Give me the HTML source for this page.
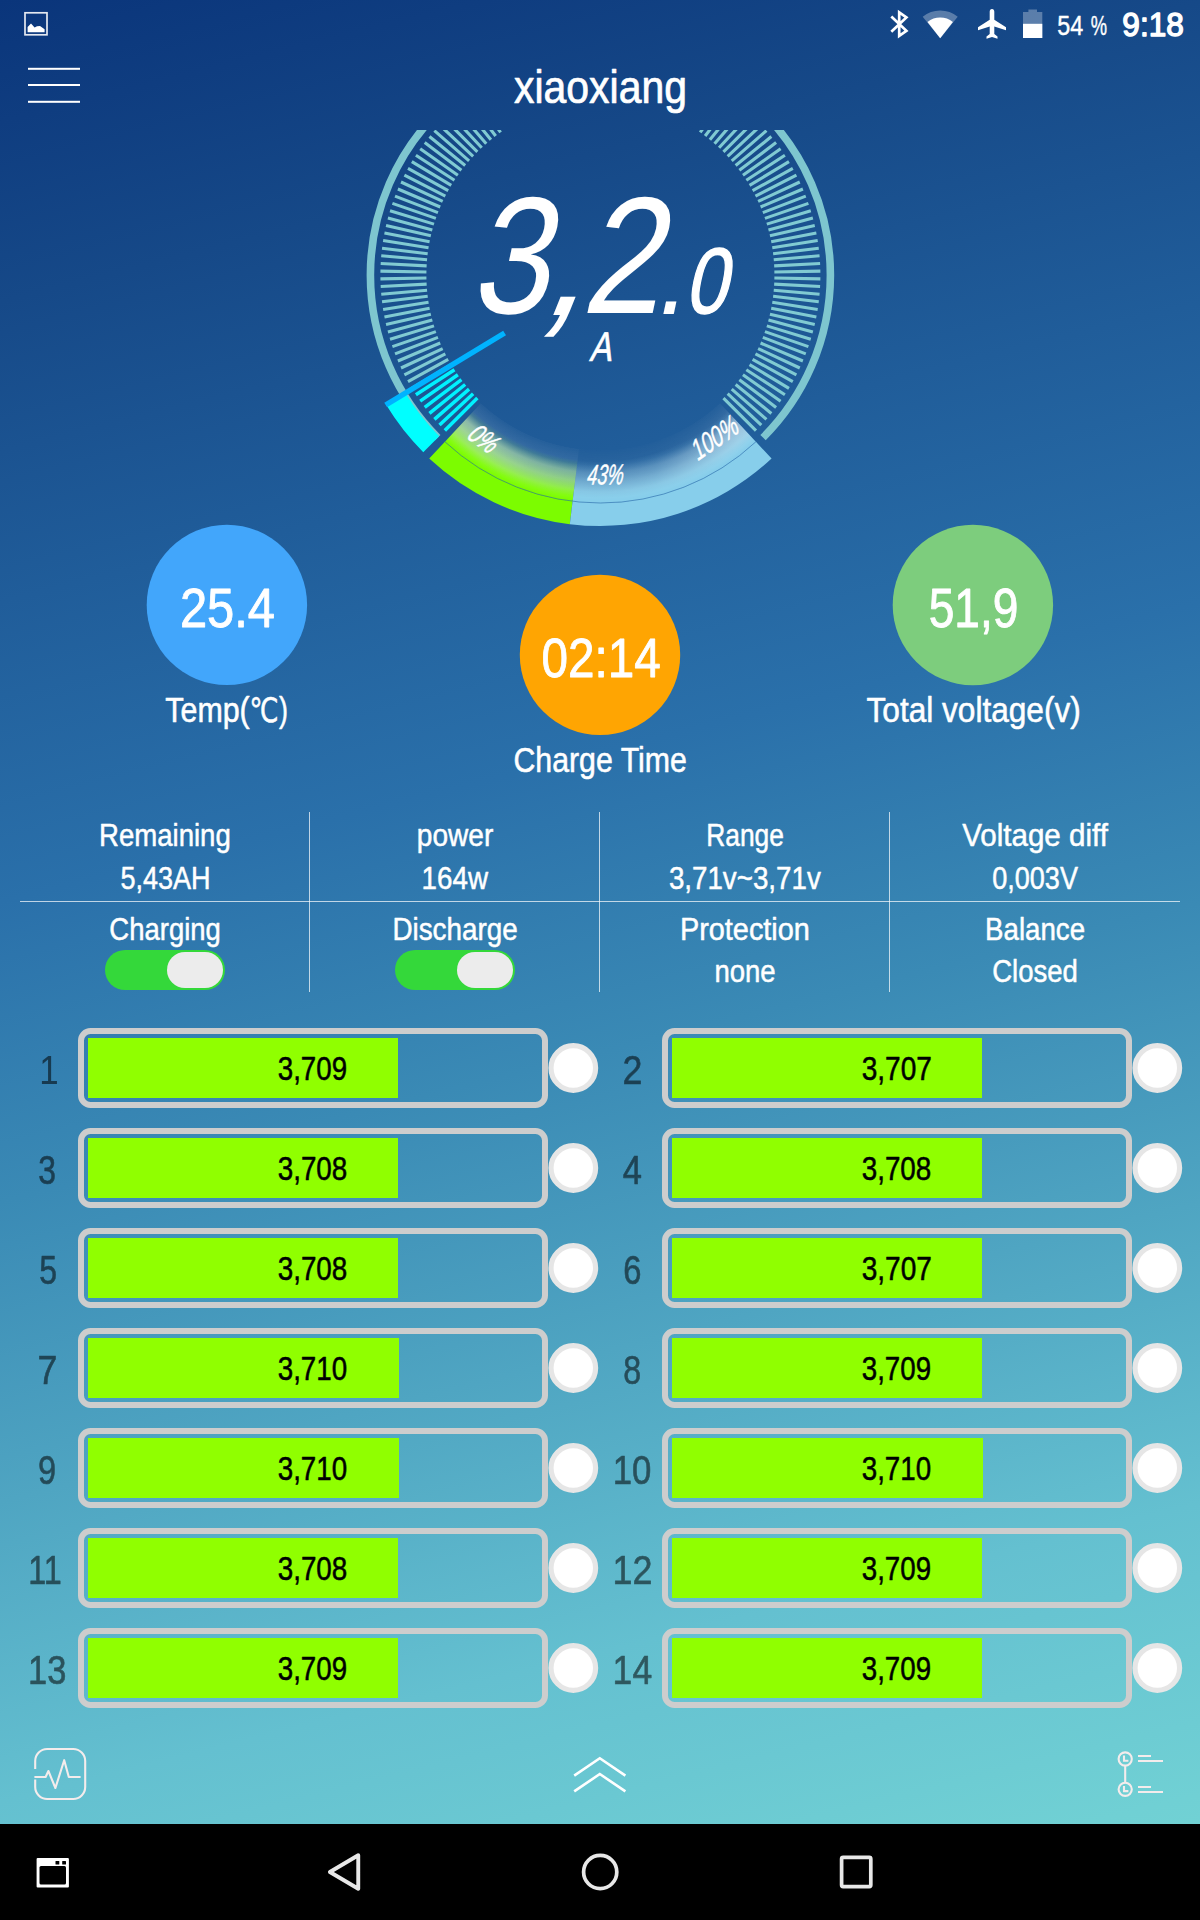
<!DOCTYPE html>
<html lang="en">
<head>
<meta charset="utf-8">
<title>xiaoxiang</title>
<style>
html,body{margin:0;padding:0;background:#000;}
body{width:1200px;height:1920px;overflow:hidden;position:relative;font-family:"Liberation Sans",sans-serif;}
.screen{position:absolute;left:0;top:0;width:1200px;height:1824px;overflow:hidden;
  background:linear-gradient(166deg,#0a357b 0%,#0f3d80 5.74%,#164988 14.22%,#205d9a 28.36%,#2a70aa 42.49%,#3a8ab5 56.61%,#4fa5c2 70.74%,#64c0d0 84.87%,#70d0d4 98.63%,#71d1d4 100%);}
.ui{position:absolute;left:0;top:0;display:block;}
.navbar{position:absolute;left:0;top:1824px;width:1200px;height:96px;background:#000;}
.navbar svg{display:block;}
text{white-space:pre;}
</style>
</head>
<body>
<div class="screen">
<svg class="ui" width="1200" height="1824" viewBox="0 0 1200 1824" font-family="&quot;Liberation Sans&quot;, sans-serif">
<defs>
<clipPath id="gclip"><rect x="300" y="130" width="600" height="420"/></clipPath>
<radialGradient id="gg" gradientUnits="userSpaceOnUse" cx="600.4" cy="275.0" r="228">
<stop offset="0.816" stop-color="#7cfc00" stop-opacity="0"/>
<stop offset="0.855" stop-color="#7cfc00" stop-opacity="0.20"/>
<stop offset="0.890" stop-color="#7cfc00" stop-opacity="0.42"/>
<stop offset="0.921" stop-color="#7cfc00" stop-opacity="0.66"/>
<stop offset="0.952" stop-color="#7cfc00" stop-opacity="0.90"/>
<stop offset="0.978" stop-color="#7cfc00" stop-opacity="1"/>
</radialGradient>
<radialGradient id="gb" gradientUnits="userSpaceOnUse" cx="600.4" cy="275.0" r="228">
<stop offset="0.816" stop-color="#87ceeb" stop-opacity="0"/>
<stop offset="0.855" stop-color="#87ceeb" stop-opacity="0.20"/>
<stop offset="0.890" stop-color="#87ceeb" stop-opacity="0.42"/>
<stop offset="0.921" stop-color="#87ceeb" stop-opacity="0.66"/>
<stop offset="0.952" stop-color="#87ceeb" stop-opacity="0.90"/>
<stop offset="0.978" stop-color="#87ceeb" stop-opacity="1"/>
</radialGradient>
<radialGradient id="gw" gradientUnits="userSpaceOnUse" cx="600.4" cy="275.0" r="228">
<stop offset="0.767" stop-color="#fff" stop-opacity="0"/>
<stop offset="0.770" stop-color="#fff" stop-opacity="0.035"/>
<stop offset="0.833" stop-color="#fff" stop-opacity="0.13"/>
<stop offset="0.868" stop-color="#fff" stop-opacity="0.42"/>
<stop offset="0.908" stop-color="#fff" stop-opacity="0.44"/>
<stop offset="0.947" stop-color="#fff" stop-opacity="0.30"/>
<stop offset="0.978" stop-color="#fff" stop-opacity="0.08"/>
<stop offset="0.996" stop-color="#fff" stop-opacity="0"/>
</radialGradient>
<linearGradient id="gm" gradientUnits="userSpaceOnUse" x1="440" y1="0" x2="580" y2="0">
<stop offset="0" stop-color="#fff"/>
<stop offset="0.30" stop-color="#fff"/>
<stop offset="0.65" stop-color="#d8d8d8"/>
<stop offset="1" stop-color="#c4c4c4"/>
</linearGradient>
<linearGradient id="gm2" gradientUnits="userSpaceOnUse" x1="570" y1="0" x2="760" y2="0">
<stop offset="0" stop-color="#4a4a4a"/>
<stop offset="0.45" stop-color="#5a5a5a"/>
<stop offset="0.70" stop-color="#9a9a9a"/>
<stop offset="0.88" stop-color="#f0f0f0"/>
<stop offset="1" stop-color="#fff"/>
</linearGradient>
<mask id="gmask" maskUnits="userSpaceOnUse" x="300" y="300" width="600" height="300"><rect x="300" y="300" width="600" height="300" fill="url(#gm)"/></mask>
<mask id="gmask2" maskUnits="userSpaceOnUse" x="300" y="300" width="600" height="300"><rect x="300" y="300" width="600" height="300" fill="url(#gm2)"/></mask>
</defs>
<g id="statusbar">
<rect x="25" y="12.8" width="22" height="22" fill="none" stroke="#e4e8f0" stroke-width="1.7"/>
<path d="M27.6 32.2 V27 L31 23.4 L34.6 27.4 L37 26.3 L40 26 L44.6 29.2 V32.2 Z" fill="#fff"/>
<path d="M891.3 16.5 L906.4 30.8 L899.2 35.8 V12.4 L906.4 17.4 L891.3 31.7" fill="none" stroke="#fff" stroke-width="2.7" stroke-linejoin="miter"/>
<path d="M922.7 16.7 A28.1 28.1 0 0 1 957.7 16.7 L940.2 38.2 Z" fill="#fff" fill-opacity="0.3"/>
<path d="M927.5 22 A20.6 20.6 0 0 1 952.9 22 L940.2 38.2 Z" fill="#fff"/>
<path d="M992 9 c1.5 0 2.3 1.3 2.3 2.8 v8 l11.7 7.4 v3 l-11.7 -3.7 v7.6 l3.2 2.3 v2.3 l-5.5 -1.6 l-5.5 1.6 v-2.3 l3.2 -2.3 v-7.6 l-11.7 3.7 v-3 l11.7 -7.4 v-8 c0 -1.5 0.8 -2.8 2.3 -2.8 z" fill="#fff"/>
<path d="M1028.4 9.4 h8.6 v2.5 h5.3 v26.1 h-19.3 v-26.1 h5.4 z" fill="#fff" fill-opacity="0.3"/>
<rect x="1023" y="23.8" width="19.3" height="14.2" fill="#fff"/>
<text transform="translate(1057.25 34.90) scale(0.8645 1.0300)" font-size="27.00" stroke="#fff" stroke-width="0.43" stroke-linejoin="round" fill="#fff">54</text>
<text transform="translate(1090.84 34.90) scale(0.6790 1.0300)" font-size="27.00" stroke="#fff" stroke-width="0.43" stroke-linejoin="round" fill="#fff">%</text>
<text transform="translate(1122.37 36.00) scale(0.9928 1.0300)" font-size="31.80" stroke="#fff" stroke-width="1.34" stroke-linejoin="round" fill="#fff">9:18</text>
</g>
<g id="header">
<rect x="28" y="67.8" width="52" height="2" fill="#fff"/>
<rect x="28" y="84.0" width="52" height="2" fill="#fff"/>
<rect x="28" y="100.8" width="52" height="2" fill="#fff"/>
<text transform="translate(514.00 102.50) scale(0.8822 1.0000)" font-size="46.40" stroke="#fff" stroke-width="0.74" stroke-linejoin="round" fill="#fff">xiaoxiang</text>
</g>
<g id="gauge" clip-path="url(#gclip)">
<path d="M437.77 437.63 A230 230 0 1 1 763.03 437.63" fill="none" stroke="#7ec6cf" stroke-width="7.6"/>
<path d="M451.25 364.62 L411.82 388.31 M448.22 359.36 L407.98 381.66 M445.36 353.99 L404.38 374.88 M442.70 348.54 L401.01 367.98 M440.23 342.99 L397.89 360.96 M437.96 337.36 L395.01 353.84 M435.88 331.65 L392.39 346.62 M434.00 325.87 L390.01 339.32 M432.33 320.03 L387.90 331.94 M430.86 314.14 L386.04 324.49 M429.60 308.20 L384.44 316.98 M428.54 302.22 L383.11 309.42 M427.70 296.21 L382.04 301.81 M427.06 290.17 L381.24 294.17 M426.64 284.11 L380.70 286.51 M426.43 278.04 L380.43 278.84 M426.43 271.96 L380.43 271.16 M426.64 265.89 L380.70 263.49 M427.06 259.83 L381.24 255.83 M427.70 253.79 L382.04 248.19 M428.54 247.78 L383.11 240.58 M429.60 241.80 L384.44 233.02 M430.86 235.86 L386.04 225.51 M432.33 229.97 L387.90 218.06 M434.00 224.13 L390.01 210.68 M435.88 218.35 L392.39 203.38 M437.96 212.64 L395.01 196.16 M440.23 207.01 L397.89 189.04 M442.70 201.46 L401.01 182.02 M445.36 196.01 L404.38 175.12 M448.22 190.64 L407.98 168.34 M451.25 185.38 L411.82 161.69 M454.47 180.23 L415.89 155.18 M457.87 175.20 L420.19 148.81 M461.44 170.28 L424.70 142.60 M465.18 165.50 L429.43 136.55 M469.08 160.85 L434.36 130.67 M473.14 156.33 L439.50 124.96 M477.36 151.96 L444.84 119.44 M481.73 147.74 L450.36 114.10 M486.25 143.68 L456.07 108.96 M490.90 139.78 L461.95 104.03 M495.68 136.04 L468.00 99.30 M500.60 132.47 L474.21 94.79 M505.63 129.07 L480.58 90.49 M510.78 125.85 L487.09 86.42 M516.04 122.82 L493.74 82.58 M521.41 119.96 L500.52 78.98 M526.86 117.30 L507.42 75.61 M532.41 114.83 L514.44 72.49 M538.04 112.56 L521.56 69.61 M543.75 110.48 L528.78 66.99 M549.53 108.60 L536.08 64.61 M555.37 106.93 L543.46 62.50 M561.26 105.46 L550.91 60.64 M567.20 104.20 L558.42 59.04 M573.18 103.14 L565.98 57.71 M579.19 102.30 L573.59 56.64 M585.23 101.66 L581.23 55.84 M591.29 101.24 L588.89 55.30 M597.36 101.03 L596.56 55.03 M603.44 101.03 L604.24 55.03 M609.51 101.24 L611.91 55.30 M615.57 101.66 L619.57 55.84 M621.61 102.30 L627.21 56.64 M627.62 103.14 L634.82 57.71 M633.60 104.20 L642.38 59.04 M639.54 105.46 L649.89 60.64 M645.43 106.93 L657.34 62.50 M651.27 108.60 L664.72 64.61 M657.05 110.48 L672.02 66.99 M662.76 112.56 L679.24 69.61 M668.39 114.83 L686.36 72.49 M673.94 117.30 L693.38 75.61 M679.39 119.96 L700.28 78.98 M684.76 122.82 L707.06 82.58 M690.02 125.85 L713.71 86.42 M695.17 129.07 L720.22 90.49 M700.20 132.47 L726.59 94.79 M705.12 136.04 L732.80 99.30 M709.90 139.78 L738.85 104.03 M714.55 143.68 L744.73 108.96 M719.07 147.74 L750.44 114.10 M723.44 151.96 L755.96 119.44 M727.66 156.33 L761.30 124.96 M731.72 160.85 L766.44 130.67 M735.62 165.50 L771.37 136.55 M739.36 170.28 L776.10 142.60 M742.93 175.20 L780.61 148.81 M746.33 180.23 L784.91 155.18 M749.55 185.38 L788.98 161.69 M752.58 190.64 L792.82 168.34 M755.44 196.01 L796.42 175.12 M758.10 201.46 L799.79 182.02 M760.57 207.01 L802.91 189.04 M762.84 212.64 L805.79 196.16 M764.92 218.35 L808.41 203.38 M766.80 224.13 L810.79 210.68 M768.47 229.97 L812.90 218.06 M769.94 235.86 L814.76 225.51 M771.20 241.80 L816.36 233.02 M772.26 247.78 L817.69 240.58 M773.10 253.79 L818.76 248.19 M773.74 259.83 L819.56 255.83 M774.16 265.89 L820.10 263.49 M774.37 271.96 L820.37 271.16 M774.37 278.04 L820.37 278.84 M774.16 284.11 L820.10 286.51 M773.74 290.17 L819.56 294.17 M773.10 296.21 L818.76 301.81 M772.26 302.22 L817.69 309.42 M771.20 308.20 L816.36 316.98 M769.94 314.14 L814.76 324.49 M768.47 320.03 L812.90 331.94 M766.80 325.87 L810.79 339.32 M764.92 331.65 L808.41 346.62 M762.84 337.36 L805.79 353.84 M760.57 342.99 L802.91 360.96 M758.10 348.54 L799.79 367.98 M755.44 353.99 L796.42 374.88 M752.58 359.36 L792.82 381.66 M749.55 364.62 L788.98 388.31 M746.33 369.77 L784.91 394.82 M742.93 374.80 L780.61 401.19 M739.36 379.72 L776.10 407.40 M735.62 384.50 L771.37 413.45 M731.72 389.15 L766.44 419.33 M727.66 393.67 L761.30 425.04 M723.44 398.04 L755.96 430.56" stroke="#80cad2" stroke-width="3.1" fill="none"/>
<path d="M477.36 398.04 L444.84 430.56 M473.14 393.67 L439.50 425.04 M469.08 389.15 L434.36 419.33 M465.18 384.50 L429.43 413.45 M461.44 379.72 L424.70 407.40 M457.87 374.80 L420.19 401.19 M454.47 369.77 L415.89 394.82" stroke="#00f2ff" stroke-width="3.5" fill="none"/>
<path d="M386.13 404.77 A250.50 250.50 0 0 0 423.27 452.13 L439.18 436.22 A228.00 228.00 0 0 1 405.38 393.11 Z" fill="#00ffff"/>
<path d="M429.22 458.57 A251.00 251.00 0 0 0 569.81 524.13 L572.61 501.30 A228.00 228.00 0 0 1 444.90 441.75 Z" fill="#7cfc00"/>
<path d="M569.81 524.13 A251.00 251.00 0 0 0 771.58 458.57 L755.90 441.75 A228.00 228.00 0 0 1 572.61 501.30 Z" fill="#87ceeb"/>
<path d="M444.50 442.19 A228.60 228.60 0 0 0 572.54 501.90 L579.07 448.70 A175.00 175.00 0 0 1 481.05 402.99 Z" fill="url(#gg)"/>
<path d="M572.54 501.90 A228.60 228.60 0 0 0 756.30 442.19 L719.75 402.99 A175.00 175.00 0 0 1 579.07 448.70 Z" fill="url(#gb)"/>
<path d="M444.50 442.19 A228.60 228.60 0 0 0 572.54 501.90 L579.07 448.70 A175.00 175.00 0 0 1 481.05 402.99 Z" fill="url(#gw)" mask="url(#gmask)"/>
<path d="M572.54 501.90 A228.60 228.60 0 0 0 756.30 442.19 L719.75 402.99 A175.00 175.00 0 0 1 579.07 448.70 Z" fill="url(#gw)" mask="url(#gmask2)"/>
<path d="M444.90 441.75 A228 228 0 0 0 755.90 441.75" fill="none" stroke="#2566a6" stroke-width="0.75" stroke-opacity="0.8"/>
<path d="M504.60 333.02 L385.70 405.02" stroke="#00b3ff" stroke-width="5.5" fill="none"/>
<text transform="translate(477.56 445.94) rotate(35.70) skewX(-8.0) scale(0.709 1)" font-size="28.5" font-style="italic" text-anchor="middle" fill="#fff" stroke="#fff" stroke-width="0.45">0%</text>
<text transform="translate(604.79 484.45) rotate(-1.20) skewX(-8.0) scale(0.638 1)" font-size="28.5" font-style="italic" text-anchor="middle" fill="#fff" stroke="#fff" stroke-width="0.45">43%</text>
<text transform="translate(719.39 446.21) rotate(-34.80) skewX(-8.0) scale(0.712 1)" font-size="28.5" font-style="italic" text-anchor="middle" fill="#fff" stroke="#fff" stroke-width="0.45">100%</text>
<text transform="translate(469.27 313.10) skewX(-12.00) scale(0.8489 1.0000)" font-size="166.50" fill="#fff">3</text>
<text transform="translate(538.82 314.60) skewX(-22.00) scale(0.9550 1.0400)" font-size="164.00" fill="#fff">,</text>
<text transform="translate(580.26 313.10) skewX(-12.00) scale(0.8592 1.0000)" font-size="166.50" fill="#fff">2</text>
<text transform="translate(653.57 314.20) skewX(-12.00) scale(0.9357 1.0000)" font-size="116.00" fill="#fff">.</text>
<text transform="translate(684.13 312.60) skewX(-12.00) scale(0.8095 1.0000)" font-size="93.20" stroke="#fff" stroke-width="1.49" stroke-linejoin="round" fill="#fff">0</text>
<text transform="translate(588.93 361.10) skewX(-12.00) scale(0.8020 1.0000)" font-size="41.40" stroke="#fff" stroke-width="0.66" stroke-linejoin="round" fill="#fff">A</text>
</g>
<g id="stats">
<circle cx="226.9" cy="604.9" r="80.2" fill="#42a6fb"/>
<circle cx="600" cy="654.9" r="80.2" fill="#ffa502"/>
<circle cx="972.9" cy="605" r="80.2" fill="#7dcd7d"/>
<text transform="translate(179.93 627.20) scale(0.8966 1.0300)" font-size="54.50" stroke="#fff" stroke-width="0.87" stroke-linejoin="round" fill="#fff">25.4</text>
<text transform="translate(541.47 677.40) scale(0.8738 1.0300)" font-size="54.50" stroke="#fff" stroke-width="0.87" stroke-linejoin="round" fill="#fff">02:14</text>
<text transform="translate(928.73 627.20) scale(0.8460 1.0300)" font-size="54.50" stroke="#fff" stroke-width="0.87" stroke-linejoin="round" fill="#fff">51,9</text>
<text transform="translate(165.35 721.60) scale(0.8779 1.0000)" font-size="34.60" stroke="#fff" stroke-width="0.55" stroke-linejoin="round" fill="#fff">Temp(</text>
<text transform="translate(249.38 721.60) scale(0.7660 1.0000)" font-size="33.60" font-family="&quot;DejaVu Sans&quot;, &quot;Noto Sans CJK SC&quot;, sans-serif" stroke="#fff" stroke-width="0.54" stroke-linejoin="round" fill="#fff">℃</text>
<text transform="translate(279.03 721.60) scale(0.7776 1.0000)" font-size="34.60" stroke="#fff" stroke-width="0.55" stroke-linejoin="round" fill="#fff">)</text>
<text transform="translate(513.42 772.00) scale(0.8759 1.0000)" font-size="34.60" stroke="#fff" stroke-width="0.55" stroke-linejoin="round" fill="#fff">Charge Time</text>
<text transform="translate(866.52 721.60) scale(0.9137 1.0000)" font-size="34.60" stroke="#fff" stroke-width="0.55" stroke-linejoin="round" fill="#fff">Total voltage(v)</text>
</g>
<g id="table">
<rect x="20" y="901" width="1160" height="1" fill="#fff" fill-opacity="0.7"/>
<rect x="309.0" y="812" width="1" height="180" fill="#fff" fill-opacity="0.7"/>
<rect x="599.0" y="812" width="1" height="180" fill="#fff" fill-opacity="0.7"/>
<rect x="889.0" y="812" width="1" height="180" fill="#fff" fill-opacity="0.7"/>
<text transform="translate(98.98 845.60) scale(0.8622 1.0000)" font-size="32.00" stroke="#fff" stroke-width="0.51" stroke-linejoin="round" fill="#fff">Remaining</text>
<text transform="translate(416.78 845.60) scale(0.8775 1.0000)" font-size="32.00" stroke="#fff" stroke-width="0.51" stroke-linejoin="round" fill="#fff">power</text>
<text transform="translate(706.23 845.60) scale(0.8241 1.0000)" font-size="32.00" stroke="#fff" stroke-width="0.51" stroke-linejoin="round" fill="#fff">Range</text>
<text transform="translate(962.20 845.60) scale(0.9237 1.0000)" font-size="32.00" stroke="#fff" stroke-width="0.51" stroke-linejoin="round" fill="#fff">Voltage diff</text>
<text transform="translate(120.38 888.75) scale(0.8448 1.0000)" font-size="32.00" stroke="#fff" stroke-width="0.51" stroke-linejoin="round" fill="#fff">5,43AH</text>
<text transform="translate(421.52 888.75) scale(0.8690 1.0000)" font-size="32.00" stroke="#fff" stroke-width="0.51" stroke-linejoin="round" fill="#fff">164w</text>
<text transform="translate(668.89 888.75) scale(0.8669 1.0000)" font-size="32.00" stroke="#fff" stroke-width="0.51" stroke-linejoin="round" fill="#fff">3,71v~3,71v</text>
<text transform="translate(992.26 888.75) scale(0.8452 1.0000)" font-size="32.00" stroke="#fff" stroke-width="0.51" stroke-linejoin="round" fill="#fff">0,003V</text>
<text transform="translate(109.37 939.50) scale(0.8584 1.0000)" font-size="32.00" stroke="#fff" stroke-width="0.51" stroke-linejoin="round" fill="#fff">Charging</text>
<text transform="translate(392.40 939.50) scale(0.8700 1.0000)" font-size="32.00" stroke="#fff" stroke-width="0.51" stroke-linejoin="round" fill="#fff">Discharge</text>
<text transform="translate(679.88 939.50) scale(0.9028 1.0000)" font-size="32.00" stroke="#fff" stroke-width="0.51" stroke-linejoin="round" fill="#fff">Protection</text>
<text transform="translate(985.04 939.50) scale(0.8649 1.0000)" font-size="32.00" stroke="#fff" stroke-width="0.51" stroke-linejoin="round" fill="#fff">Balance</text>
<text transform="translate(714.41 982.00) scale(0.8610 1.0000)" font-size="32.00" stroke="#fff" stroke-width="0.51" stroke-linejoin="round" fill="#fff">none</text>
<text transform="translate(992.25 982.00) scale(0.8596 1.0000)" font-size="32.00" stroke="#fff" stroke-width="0.51" stroke-linejoin="round" fill="#fff">Closed</text>
<rect x="105" y="950" width="120" height="40" rx="20" fill="#34d83a"/>
<rect x="167" y="952" width="56" height="36" rx="18" fill="#ececec"/>
<rect x="395" y="950" width="120" height="40" rx="20" fill="#34d83a"/>
<rect x="457" y="952" width="56" height="36" rx="18" fill="#ececec"/>
</g>
<g id="cells">
<rect x="88" y="1038" width="310" height="60" fill="#90ff00"/>
<rect x="81" y="1031" width="464" height="74" rx="9.5" fill="none" stroke="#cdcdcd" stroke-width="6"/>
<circle cx="573.3" cy="1068" r="22.3" fill="#fff" stroke="#e6e6e6" stroke-width="5.2"/>
<text transform="translate(39.2 1084) scale(0.87 1.03)" font-size="40.2" fill="#000" opacity="0.54">1</text>
<text transform="translate(277.72 1080.00) scale(0.8713 1.0300)" font-size="31.80" stroke="#000" stroke-width="0.51" stroke-linejoin="round" fill="#000">3,709</text>
<rect x="672" y="1038" width="310" height="60" fill="#90ff00"/>
<rect x="665" y="1031" width="464" height="74" rx="9.5" fill="none" stroke="#cdcdcd" stroke-width="6"/>
<circle cx="1157.3" cy="1068" r="22.3" fill="#fff" stroke="#e6e6e6" stroke-width="5.2"/>
<text transform="translate(622.45 1084.00) scale(0.8902 1.0300)" font-size="40.20" stroke="#000" stroke-width="0.64" stroke-linejoin="round" fill="#000" opacity="0.54">2</text>
<text transform="translate(861.71 1080.00) scale(0.8827 1.0300)" font-size="31.80" stroke="#000" stroke-width="0.51" stroke-linejoin="round" fill="#000">3,707</text>
<rect x="88" y="1138" width="310" height="60" fill="#90ff00"/>
<rect x="81" y="1131" width="464" height="74" rx="9.5" fill="none" stroke="#cdcdcd" stroke-width="6"/>
<circle cx="573.3" cy="1168" r="22.3" fill="#fff" stroke="#e6e6e6" stroke-width="5.2"/>
<text transform="translate(38.35 1184.00) scale(0.7933 1.0300)" font-size="40.20" stroke="#000" stroke-width="0.64" stroke-linejoin="round" fill="#000" opacity="0.54">3</text>
<text transform="translate(277.72 1180.00) scale(0.8747 1.0300)" font-size="31.80" stroke="#000" stroke-width="0.51" stroke-linejoin="round" fill="#000">3,708</text>
<rect x="672" y="1138" width="310" height="60" fill="#90ff00"/>
<rect x="665" y="1131" width="464" height="74" rx="9.5" fill="none" stroke="#cdcdcd" stroke-width="6"/>
<circle cx="1157.3" cy="1168" r="22.3" fill="#fff" stroke="#e6e6e6" stroke-width="5.2"/>
<text transform="translate(622.74 1184.00) scale(0.8580 1.0300)" font-size="40.20" stroke="#000" stroke-width="0.64" stroke-linejoin="round" fill="#000" opacity="0.54">4</text>
<text transform="translate(861.72 1180.00) scale(0.8747 1.0300)" font-size="31.80" stroke="#000" stroke-width="0.51" stroke-linejoin="round" fill="#000">3,708</text>
<rect x="88" y="1238" width="310" height="60" fill="#90ff00"/>
<rect x="81" y="1231" width="464" height="74" rx="9.5" fill="none" stroke="#cdcdcd" stroke-width="6"/>
<circle cx="573.3" cy="1268" r="22.3" fill="#fff" stroke="#e6e6e6" stroke-width="5.2"/>
<text transform="translate(39.19 1284.00) scale(0.7987 1.0300)" font-size="40.20" stroke="#000" stroke-width="0.64" stroke-linejoin="round" fill="#000" opacity="0.54">5</text>
<text transform="translate(277.72 1280.00) scale(0.8747 1.0300)" font-size="31.80" stroke="#000" stroke-width="0.51" stroke-linejoin="round" fill="#000">3,708</text>
<rect x="672" y="1238" width="310" height="60" fill="#90ff00"/>
<rect x="665" y="1231" width="464" height="74" rx="9.5" fill="none" stroke="#cdcdcd" stroke-width="6"/>
<circle cx="1157.3" cy="1268" r="22.3" fill="#fff" stroke="#e6e6e6" stroke-width="5.2"/>
<text transform="translate(623.33 1284.00) scale(0.8147 1.0300)" font-size="40.20" stroke="#000" stroke-width="0.64" stroke-linejoin="round" fill="#000" opacity="0.54">6</text>
<text transform="translate(861.71 1280.00) scale(0.8827 1.0300)" font-size="31.80" stroke="#000" stroke-width="0.51" stroke-linejoin="round" fill="#000">3,707</text>
<rect x="88" y="1338" width="311" height="60" fill="#90ff00"/>
<rect x="81" y="1331" width="464" height="74" rx="9.5" fill="none" stroke="#cdcdcd" stroke-width="6"/>
<circle cx="573.3" cy="1368" r="22.3" fill="#fff" stroke="#e6e6e6" stroke-width="5.2"/>
<text transform="translate(37.55 1384.00) scale(0.8902 1.0300)" font-size="40.20" stroke="#000" stroke-width="0.64" stroke-linejoin="round" fill="#000" opacity="0.54">7</text>
<text transform="translate(277.72 1380.00) scale(0.8729 1.0300)" font-size="31.80" stroke="#000" stroke-width="0.51" stroke-linejoin="round" fill="#000">3,710</text>
<rect x="672" y="1338" width="310" height="60" fill="#90ff00"/>
<rect x="665" y="1331" width="464" height="74" rx="9.5" fill="none" stroke="#cdcdcd" stroke-width="6"/>
<circle cx="1157.3" cy="1368" r="22.3" fill="#fff" stroke="#e6e6e6" stroke-width="5.2"/>
<text transform="translate(623.28 1384.00) scale(0.8017 1.0300)" font-size="40.20" stroke="#000" stroke-width="0.64" stroke-linejoin="round" fill="#000" opacity="0.54">8</text>
<text transform="translate(861.72 1380.00) scale(0.8713 1.0300)" font-size="31.80" stroke="#000" stroke-width="0.51" stroke-linejoin="round" fill="#000">3,709</text>
<rect x="88" y="1438" width="311" height="60" fill="#90ff00"/>
<rect x="81" y="1431" width="464" height="74" rx="9.5" fill="none" stroke="#cdcdcd" stroke-width="6"/>
<circle cx="573.3" cy="1468" r="22.3" fill="#fff" stroke="#e6e6e6" stroke-width="5.2"/>
<text transform="translate(38.10 1484.00) scale(0.8091 1.0300)" font-size="40.20" stroke="#000" stroke-width="0.64" stroke-linejoin="round" fill="#000" opacity="0.54">9</text>
<text transform="translate(277.72 1480.00) scale(0.8729 1.0300)" font-size="31.80" stroke="#000" stroke-width="0.51" stroke-linejoin="round" fill="#000">3,710</text>
<rect x="672" y="1438" width="311" height="60" fill="#90ff00"/>
<rect x="665" y="1431" width="464" height="74" rx="9.5" fill="none" stroke="#cdcdcd" stroke-width="6"/>
<circle cx="1157.3" cy="1468" r="22.3" fill="#fff" stroke="#e6e6e6" stroke-width="5.2"/>
<text transform="translate(612.68 1484.00) scale(0.8644 1.0300)" font-size="40.20" stroke="#000" stroke-width="0.64" stroke-linejoin="round" fill="#000" opacity="0.54">10</text>
<text transform="translate(861.72 1480.00) scale(0.8729 1.0300)" font-size="31.80" stroke="#000" stroke-width="0.51" stroke-linejoin="round" fill="#000">3,710</text>
<rect x="88" y="1538" width="310" height="60" fill="#90ff00"/>
<rect x="81" y="1531" width="464" height="74" rx="9.5" fill="none" stroke="#cdcdcd" stroke-width="6"/>
<circle cx="573.3" cy="1568" r="22.3" fill="#fff" stroke="#e6e6e6" stroke-width="5.2"/>
<text transform="translate(28.16 1584.00) scale(0.8048 1.0300)" font-size="40.20" stroke="#000" stroke-width="0.64" stroke-linejoin="round" fill="#000" opacity="0.54">11</text>
<text transform="translate(277.72 1580.00) scale(0.8747 1.0300)" font-size="31.80" stroke="#000" stroke-width="0.51" stroke-linejoin="round" fill="#000">3,708</text>
<rect x="672" y="1538" width="310" height="60" fill="#90ff00"/>
<rect x="665" y="1531" width="464" height="74" rx="9.5" fill="none" stroke="#cdcdcd" stroke-width="6"/>
<circle cx="1157.3" cy="1568" r="22.3" fill="#fff" stroke="#e6e6e6" stroke-width="5.2"/>
<text transform="translate(612.59 1584.00) scale(0.8936 1.0300)" font-size="40.20" stroke="#000" stroke-width="0.64" stroke-linejoin="round" fill="#000" opacity="0.54">12</text>
<text transform="translate(861.72 1580.00) scale(0.8713 1.0300)" font-size="31.80" stroke="#000" stroke-width="0.51" stroke-linejoin="round" fill="#000">3,709</text>
<rect x="88" y="1638" width="310" height="60" fill="#90ff00"/>
<rect x="81" y="1631" width="464" height="74" rx="9.5" fill="none" stroke="#cdcdcd" stroke-width="6"/>
<circle cx="573.3" cy="1668" r="22.3" fill="#fff" stroke="#e6e6e6" stroke-width="5.2"/>
<text transform="translate(28.00 1684.00) scale(0.8584 1.0300)" font-size="40.20" stroke="#000" stroke-width="0.64" stroke-linejoin="round" fill="#000" opacity="0.54">13</text>
<text transform="translate(277.72 1680.00) scale(0.8713 1.0300)" font-size="31.80" stroke="#000" stroke-width="0.51" stroke-linejoin="round" fill="#000">3,709</text>
<rect x="672" y="1638" width="310" height="60" fill="#90ff00"/>
<rect x="665" y="1631" width="464" height="74" rx="9.5" fill="none" stroke="#cdcdcd" stroke-width="6"/>
<circle cx="1157.3" cy="1668" r="22.3" fill="#fff" stroke="#e6e6e6" stroke-width="5.2"/>
<text transform="translate(612.62 1684.00) scale(0.8839 1.0300)" font-size="40.20" stroke="#000" stroke-width="0.64" stroke-linejoin="round" fill="#000" opacity="0.54">14</text>
<text transform="translate(861.72 1680.00) scale(0.8713 1.0300)" font-size="31.80" stroke="#000" stroke-width="0.51" stroke-linejoin="round" fill="#000">3,709</text>
</g>
<g id="bottombar" fill="none" stroke="#f4ecec" stroke-width="2.1">
<path d="M35.2 1769 V1761 A12 12 0 0 1 47.2 1749 H73.2 A12 12 0 0 1 85.2 1761 V1787 A12 12 0 0 1 73.2 1799 H47.2 A12 12 0 0 1 35.2 1787 V1779.5"/>
<path d="M34.4 1777 H45.6 L48.4 1771 L55.4 1788 L64.2 1760.2 L68.8 1777 H80.6" stroke-linejoin="round"/>
<path d="M574.2 1775.6 L599.8 1758.2 L625.4 1775.6 M574.2 1791.4 L599.8 1774 L625.4 1791.4" stroke="#fff" stroke-width="2.6"/>
<circle cx="1125.2" cy="1759" r="6.6"/><circle cx="1125.2" cy="1789.3" r="6.6"/>
<path d="M1125.2 1765.6 V1782.7 M1124 1755.6 V1760.8 H1128.4 M1124 1785.9 V1791.1 H1128.4"/>
<path d="M1138 1756 H1151 M1138 1761 H1163 M1138 1787 H1151 M1138 1792 H1163"/>
</g>
</svg>
</div>
<div class="navbar">
<svg width="1200" height="96" viewBox="0 1824 1200 96">
<rect x="36.6" y="1857.9" width="32.3" height="29.6" rx="1" fill="#fff"/>
<rect x="39.5" y="1866" width="26.5" height="18.5" rx="1.5" fill="#000"/>
<rect x="55.5" y="1861" width="3.8" height="3.6" rx="0.5" fill="#000"/><rect x="62.2" y="1861" width="3.8" height="3.6" rx="0.5" fill="#000"/>
<path d="M358.25 1855.3 L329.9 1872.05 L358.25 1888.8 Z" fill="none" stroke="#e8e8e8" stroke-width="3.9" stroke-linejoin="round"/>
<circle cx="600.2" cy="1872" r="16.6" fill="none" stroke="#e8e8e8" stroke-width="3.7"/>
<rect x="841.6" y="1857.4" width="29.2" height="29.2" rx="1.5" fill="none" stroke="#e8e8e8" stroke-width="3.7"/>
</svg>
</div>
</body>
</html>
